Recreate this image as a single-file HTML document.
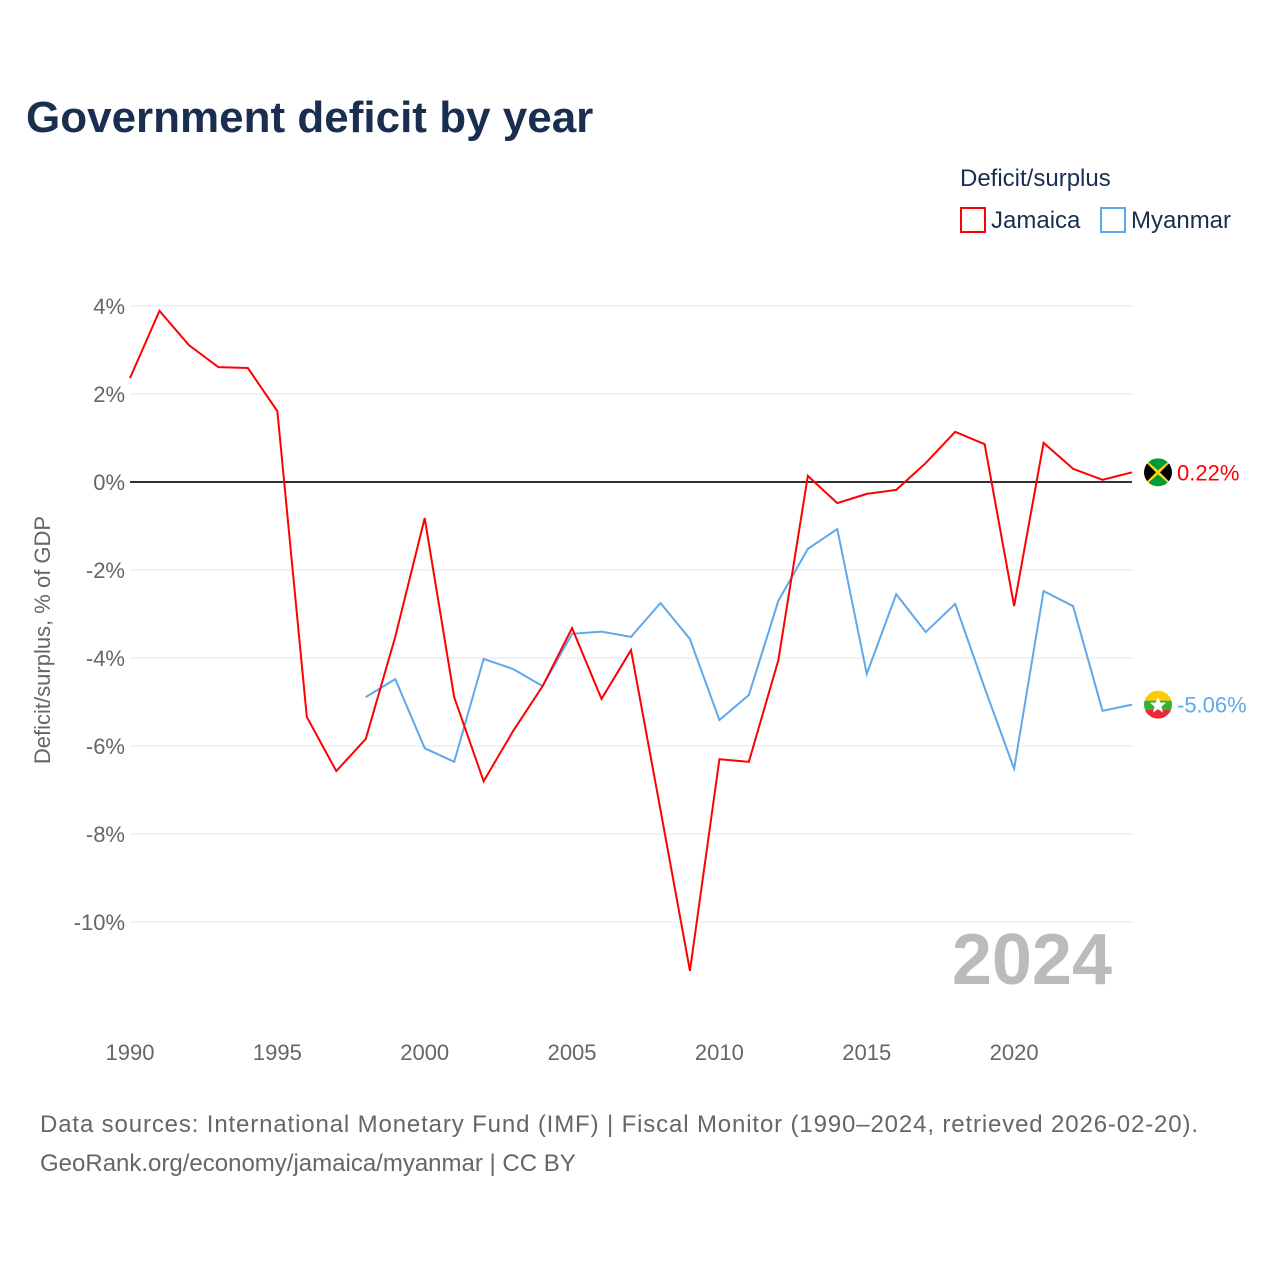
<!DOCTYPE html>
<html><head><meta charset="utf-8"><style>
body{margin:0;background:#fff;font-family:"Liberation Sans",sans-serif}
</style></head><body>
<svg width="1280" height="1280" xmlns="http://www.w3.org/2000/svg" font-family="Liberation Sans, sans-serif">
<defs>
<clipPath id="cj"><circle cx="0" cy="0" r="14"/></clipPath>
</defs>
<text x="26" y="132" font-size="44" font-weight="bold" fill="#1a2e4f">Government deficit by year</text>
<text x="960" y="186" font-size="24" fill="#1a2e4f">Deficit/surplus</text>
<g><rect x="961" y="208" width="24" height="24" fill="none" stroke="#ff0000" stroke-width="2"/><text x="991" y="228" font-size="24" fill="#1a2e4f">Jamaica</text></g>
<g><rect x="1101" y="208" width="24" height="24" fill="none" stroke="#5ea8ec" stroke-width="2"/><text x="1131" y="228" font-size="24" fill="#1a2e4f">Myanmar</text></g>
<text transform="translate(50,640) rotate(-90)" text-anchor="middle" font-size="22" fill="#666">Deficit/surplus, % of GDP</text>
<g id="grid"></g><g id="yt"></g><g id="xt"></g>
<text x="1112" y="984" text-anchor="end" font-size="72" font-weight="bold" fill="#bbb">2024</text>
<g id="lines"></g>
<text x="40" y="1132" font-size="24" fill="#666" textLength="1158">Data sources: International Monetary Fund (IMF) | Fiscal Monitor (1990–2024, retrieved 2026-02-20).</text>
<text x="40" y="1171" font-size="24" fill="#666">GeoRank.org/economy/jamaica/myanmar | CC BY</text>
</svg>
<script>
const yearsJam=[1990,1991,1992,1993,1994,1995,1996,1997,1998,1999,2000,2001,2002,2003,2004,2005,2006,2007,2008,2009,2010,2011,2012,2013,2014,2015,2016,2017,2018,2019,2020,2021,2022,2023,2024];
const jamaica=[2.36,3.89,3.11,2.61,2.59,1.61,-5.34,-6.57,-5.84,-3.52,-0.82,-4.89,-6.80,-5.66,-4.64,-3.32,-4.93,-3.82,-7.45,-11.11,-6.30,-6.36,-4.05,0.14,-0.48,-0.27,-0.18,0.43,1.14,0.86,-2.82,0.89,0.30,0.05,0.22];
const yearsMya=[1998,1999,2000,2001,2002,2003,2004,2005,2006,2007,2008,2009,2010,2011,2012,2013,2014,2015,2016,2017,2018,2019,2020,2021,2022,2023,2024];
const myanmar=[-4.89,-4.48,-6.05,-6.36,-4.02,-4.25,-4.64,-3.45,-3.40,-3.52,-2.75,-3.57,-5.41,-4.84,-2.70,-1.52,-1.07,-4.36,-2.55,-3.41,-2.77,-4.68,-6.52,-2.48,-2.82,-5.20,-5.06];
const yTicks=[4,2,0,-2,-4,-6,-8,-10];
const xTicks=[1990,1995,2000,2005,2010,2015,2020];
const NS="http://www.w3.org/2000/svg";
const X=y=>130+(y-1990)*(1002/34);
const Y=v=>482-v*44;
function mk(t,a,p){const e=document.createElementNS(NS,t);for(const k in a)e.setAttribute(k,a[k]);p.appendChild(e);return e;}
const grid=document.getElementById('grid'),yt=document.getElementById('yt'),xt=document.getElementById('xt'),lines=document.getElementById('lines');
yTicks.forEach(v=>{
 const l=mk('line',{x1:130,x2:1132,y1:Y(v),y2:Y(v),stroke:v===0?'#333':'#e6e6e6','stroke-width':v===0?2:1},grid);
 
 
 const t=mk('text',{x:125,y:Y(v)+8,'text-anchor':'end','font-size':22,fill:'#666'},yt);
 t.textContent=v+'%';
 
 
});
xTicks.forEach(y=>{
 const t=mk('text',{x:X(y),y:1060,'text-anchor':'middle','font-size':22,fill:'#666'},xt);
 t.textContent=y;
 
 
});
function flag(g,kind){
 if(kind==='jm'){
  mk('rect',{x:-14,y:-14,width:28,height:28,fill:'#f9d616'},g);
  mk('polygon',{points:'-14,-14 14,-14 0,-2',fill:'#009b3a'},g);
  mk('polygon',{points:'-14,14 14,14 0,2',fill:'#009b3a'},g);
  mk('polygon',{points:'-14,-12 -2,0 -14,12',fill:'#000'},g);
  mk('polygon',{points:'14,-12 2,0 14,12',fill:'#000'},g);
 }else{
  mk('rect',{x:-14,y:-14,width:28,height:10,fill:'#fecb00'},g);
  mk('rect',{x:-14,y:-4,width:28,height:9,fill:'#34b233'},g);
  mk('rect',{x:-14,y:5,width:28,height:9,fill:'#ea2839'},g);
  mk('polygon',{points:'0,-8 2.4,-2 8,-2 3.5,2 5,8 0,4.5 -5,8 -3.5,2 -8,-2 -2.4,-2',fill:'#fff'},g);
 }
}
function line(ys,vs,c,name,kind){
 const p=mk('polyline',{points:ys.map((y,i)=>X(y)+','+Y(vs[i])).join(' '),fill:'none',stroke:c,'stroke-width':2},lines);
 
 
 const lv=vs[vs.length-1],ly=Y(lv);
 const g=mk('g',{transform:'translate(1158,'+ly+')','clip-path':'url(#cj)'},lines);
 
 
 flag(g,kind);
 const t=mk('text',{x:1177,y:ly+8,'font-size':22,fill:c},lines);
 t.textContent=lv.toFixed(2)+'%';
 
 
}
line(yearsMya,myanmar,'#5ea8ec','myanmar-line','mm');
line(yearsJam,jamaica,'#ff0000','jamaica-line','jm');
</script>
</body></html>
